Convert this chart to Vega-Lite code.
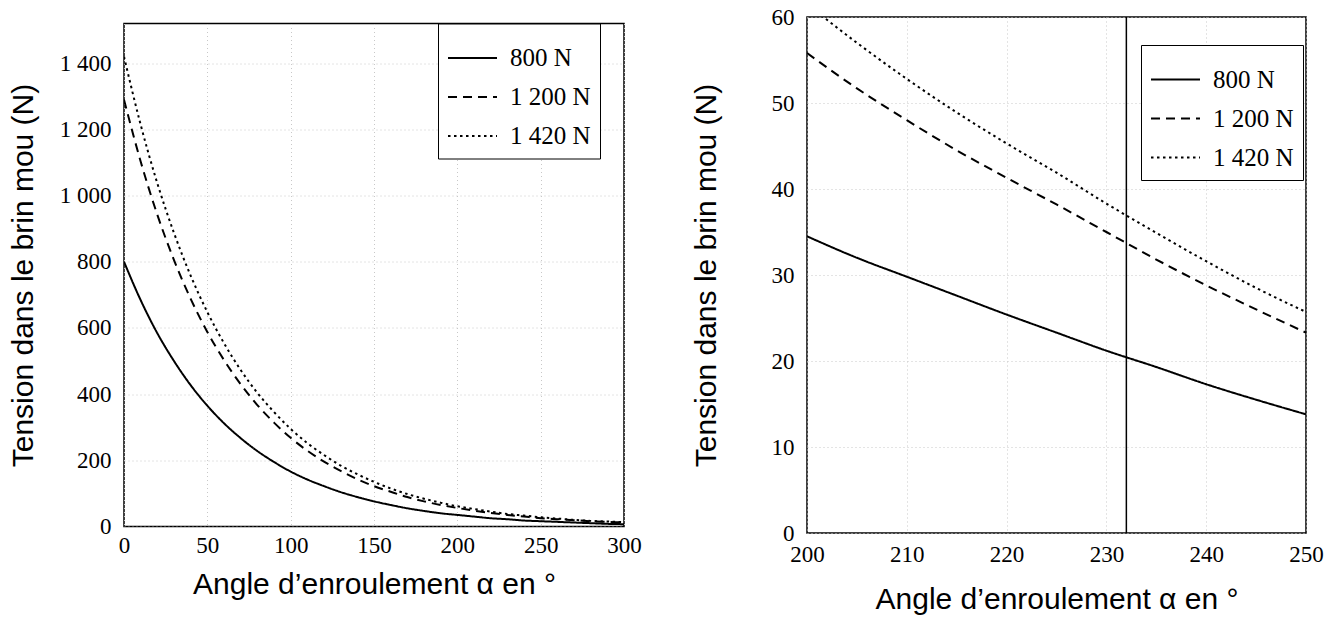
{
  "$schema": "https://vega.github.io/schema/vega-lite/v6.json",
  "background": "white",
  "padding": {"left": 7, "top": 5, "right": 5, "bottom": 5},
  "spacing": 183,
  "center": true,
  "bounds": "flush",
  "config": {
    "view": {"stroke": "black", "strokeWidth": 1.5},
    "axis": {
      "labelFont": "Liberation Serif", "labelFontSize": 23, "labelColor": "black",
      "titleFont": "Liberation Sans", "titleFontSize": 30, "titleFontWeight": "normal", "titleColor": "black",
      "domain": false, "ticks": false, "tickSize": 0, "labelFlush": false, "labelOverlap": false,
      "grid": true, "gridColor": "#c8c8c8", "gridDash": [1, 3], "gridWidth": 1
    },
    "legend": {
      "title": null, "orient": "none", "strokeColor": "black", "fillColor": "white",
      "padding": 9, "symbolType": "stroke", "symbolSize": 2400, "symbolStrokeWidth": 2,
      "symbolStrokeColor": "black", "labelFont": "Liberation Serif", "labelFontSize": 25,
      "labelColor": "black", "rowPadding": 0, "labelOffset": 12, "labelLimit": 200
    }
  },
  "datasets": {
    "left": [
      {"a": 0, "T": 800, "s": "800 N"}, {"a": 10, "T": 684, "s": "800 N"}, {"a": 20, "T": 584, "s": "800 N"}, {"a": 30, "T": 500, "s": "800 N"}, {"a": 40, "T": 427, "s": "800 N"}, {"a": 50, "T": 365, "s": "800 N"}, {"a": 60, "T": 312, "s": "800 N"}, {"a": 70, "T": 267, "s": "800 N"}, {"a": 80, "T": 228, "s": "800 N"}, {"a": 90, "T": 195, "s": "800 N"}, {"a": 100, "T": 166, "s": "800 N"}, {"a": 110, "T": 142, "s": "800 N"}, {"a": 120, "T": 122, "s": "800 N"}, {"a": 130, "T": 104, "s": "800 N"}, {"a": 140, "T": 89, "s": "800 N"}, {"a": 150, "T": 76, "s": "800 N"}, {"a": 160, "T": 65, "s": "800 N"}, {"a": 170, "T": 55, "s": "800 N"}, {"a": 180, "T": 47, "s": "800 N"}, {"a": 190, "T": 40, "s": "800 N"}, {"a": 200, "T": 35, "s": "800 N"}, {"a": 210, "T": 30, "s": "800 N"}, {"a": 220, "T": 25, "s": "800 N"}, {"a": 230, "T": 22, "s": "800 N"}, {"a": 240, "T": 18, "s": "800 N"}, {"a": 250, "T": 16, "s": "800 N"}, {"a": 260, "T": 14, "s": "800 N"}, {"a": 270, "T": 12, "s": "800 N"}, {"a": 280, "T": 10, "s": "800 N"}, {"a": 290, "T": 8, "s": "800 N"}, {"a": 300, "T": 7, "s": "800 N"},
      {"a": 0, "T": 1290, "s": "1 200 N"}, {"a": 10, "T": 1103, "s": "1 200 N"}, {"a": 20, "T": 942, "s": "1 200 N"}, {"a": 30, "T": 805, "s": "1 200 N"}, {"a": 40, "T": 688, "s": "1 200 N"}, {"a": 50, "T": 588, "s": "1 200 N"}, {"a": 60, "T": 503, "s": "1 200 N"}, {"a": 70, "T": 430, "s": "1 200 N"}, {"a": 80, "T": 367, "s": "1 200 N"}, {"a": 90, "T": 314, "s": "1 200 N"}, {"a": 100, "T": 268, "s": "1 200 N"}, {"a": 110, "T": 229, "s": "1 200 N"}, {"a": 120, "T": 196, "s": "1 200 N"}, {"a": 130, "T": 168, "s": "1 200 N"}, {"a": 140, "T": 143, "s": "1 200 N"}, {"a": 150, "T": 122, "s": "1 200 N"}, {"a": 160, "T": 105, "s": "1 200 N"}, {"a": 170, "T": 89, "s": "1 200 N"}, {"a": 180, "T": 76, "s": "1 200 N"}, {"a": 190, "T": 65, "s": "1 200 N"}, {"a": 200, "T": 56, "s": "1 200 N"}, {"a": 210, "T": 48, "s": "1 200 N"}, {"a": 220, "T": 41, "s": "1 200 N"}, {"a": 230, "T": 35, "s": "1 200 N"}, {"a": 240, "T": 30, "s": "1 200 N"}, {"a": 250, "T": 25, "s": "1 200 N"}, {"a": 260, "T": 22, "s": "1 200 N"}, {"a": 270, "T": 19, "s": "1 200 N"}, {"a": 280, "T": 16, "s": "1 200 N"}, {"a": 290, "T": 14, "s": "1 200 N"}, {"a": 300, "T": 12, "s": "1 200 N"},
      {"a": 0, "T": 1420, "s": "1 420 N"}, {"a": 10, "T": 1214, "s": "1 420 N"}, {"a": 20, "T": 1037, "s": "1 420 N"}, {"a": 30, "T": 887, "s": "1 420 N"}, {"a": 40, "T": 758, "s": "1 420 N"}, {"a": 50, "T": 648, "s": "1 420 N"}, {"a": 60, "T": 554, "s": "1 420 N"}, {"a": 70, "T": 473, "s": "1 420 N"}, {"a": 80, "T": 404, "s": "1 420 N"}, {"a": 90, "T": 346, "s": "1 420 N"}, {"a": 100, "T": 295, "s": "1 420 N"}, {"a": 110, "T": 252, "s": "1 420 N"}, {"a": 120, "T": 216, "s": "1 420 N"}, {"a": 130, "T": 184, "s": "1 420 N"}, {"a": 140, "T": 158, "s": "1 420 N"}, {"a": 150, "T": 135, "s": "1 420 N"}, {"a": 160, "T": 115, "s": "1 420 N"}, {"a": 170, "T": 98, "s": "1 420 N"}, {"a": 180, "T": 84, "s": "1 420 N"}, {"a": 190, "T": 72, "s": "1 420 N"}, {"a": 200, "T": 61, "s": "1 420 N"}, {"a": 210, "T": 53, "s": "1 420 N"}, {"a": 220, "T": 45, "s": "1 420 N"}, {"a": 230, "T": 38, "s": "1 420 N"}, {"a": 240, "T": 33, "s": "1 420 N"}, {"a": 250, "T": 28, "s": "1 420 N"}, {"a": 260, "T": 24, "s": "1 420 N"}, {"a": 270, "T": 20, "s": "1 420 N"}, {"a": 280, "T": 17, "s": "1 420 N"}, {"a": 290, "T": 15, "s": "1 420 N"}, {"a": 300, "T": 13, "s": "1 420 N"}
    ],
    "right": [
      {"a": 200, "T": 34.5, "s": "800 N"}, {"a": 205, "T": 32.0, "s": "800 N"}, {"a": 210, "T": 29.8, "s": "800 N"}, {"a": 215, "T": 27.6, "s": "800 N"}, {"a": 220, "T": 25.4, "s": "800 N"}, {"a": 225, "T": 23.3, "s": "800 N"}, {"a": 230, "T": 21.2, "s": "800 N"}, {"a": 235, "T": 19.3, "s": "800 N"}, {"a": 240, "T": 17.3, "s": "800 N"}, {"a": 245, "T": 15.5, "s": "800 N"}, {"a": 250, "T": 13.8, "s": "800 N"},
      {"a": 200, "T": 55.8, "s": "1 200 N"}, {"a": 205, "T": 51.7, "s": "1 200 N"}, {"a": 210, "T": 48.0, "s": "1 200 N"}, {"a": 215, "T": 44.5, "s": "1 200 N"}, {"a": 220, "T": 41.3, "s": "1 200 N"}, {"a": 225, "T": 38.2, "s": "1 200 N"}, {"a": 230, "T": 35.0, "s": "1 200 N"}, {"a": 235, "T": 31.8, "s": "1 200 N"}, {"a": 240, "T": 28.8, "s": "1 200 N"}, {"a": 245, "T": 26.0, "s": "1 200 N"}, {"a": 250, "T": 23.3, "s": "1 200 N"},
      {"a": 200, "T": 61.5, "s": "1 420 N"}, {"a": 205, "T": 57.0, "s": "1 420 N"}, {"a": 210, "T": 52.8, "s": "1 420 N"}, {"a": 215, "T": 48.9, "s": "1 420 N"}, {"a": 220, "T": 45.3, "s": "1 420 N"}, {"a": 225, "T": 41.9, "s": "1 420 N"}, {"a": 230, "T": 38.3, "s": "1 420 N"}, {"a": 235, "T": 34.9, "s": "1 420 N"}, {"a": 240, "T": 31.6, "s": "1 420 N"}, {"a": 245, "T": 28.5, "s": "1 420 N"}, {"a": 250, "T": 25.7, "s": "1 420 N"}
    ],
    "vline": [{"a": 232}]
  },
  "hconcat": [
    {
      "width": 500,
      "height": 503,
      "data": {"name": "left"},
      "mark": {"type": "line", "color": "black", "strokeWidth": 2, "clip": true, "interpolate": "monotone"},
      "encoding": {
        "x": {
          "field": "a", "type": "quantitative",
          "scale": {"domain": [0, 300], "nice": false, "zero": false},
          "axis": {"values": [0, 50, 100, 150, 200, 250, 300], "title": "Angle d’enroulement α en °", "labelPadding": 8, "titlePadding": 12}
        },
        "y": {
          "field": "T", "type": "quantitative",
          "scale": {"domain": [0, 1520], "nice": false},
          "axis": {
            "values": [0, 200, 400, 600, 800, 1000, 1200, 1400],
            "labelExpr": "datum.value >= 1000 ? '1 ' + slice(format(datum.value, 'd'), 1) : format(datum.value, 'd')",
            "title": "Tension dans le brin mou (N)", "labelPadding": 13, "titlePadding": 21
          }
        },
        "strokeDash": {
          "field": "s", "type": "nominal",
          "scale": {"domain": ["800 N", "1 200 N", "1 420 N"], "range": [[1, 0], [9, 6], [2.5, 3.5]]},
          "legend": {"legendX": 314, "legendY": 0}
        }
      }
    },
    {
      "width": 499,
      "height": 516,
      "encoding": {
        "x": {
          "field": "a", "type": "quantitative",
          "scale": {"domain": [200, 250], "nice": false, "zero": false},
          "axis": {"values": [200, 210, 220, 230, 240, 250], "title": "Angle d’enroulement α en °", "labelPadding": 10, "titlePadding": 18}
        }
      },
      "layer": [
        {
          "data": {"name": "right"},
          "mark": {"type": "line", "color": "black", "strokeWidth": 2, "clip": true, "interpolate": "monotone"},
          "encoding": {
            "y": {
              "field": "T", "type": "quantitative",
              "scale": {"domain": [0, 60], "nice": false},
              "axis": {"values": [0, 10, 20, 30, 40, 50, 60], "title": "Tension dans le brin mou (N)", "labelPadding": 13, "titlePadding": 50}
            },
            "strokeDash": {
              "field": "s", "type": "nominal",
              "scale": {"domain": ["800 N", "1 200 N", "1 420 N"], "range": [[1, 0], [9, 6], [2.5, 3.5]]},
              "legend": {"legendX": 334, "legendY": 28}
            }
          }
        },
        {
          "data": {"name": "vline"},
          "mark": {"type": "rule", "color": "black", "strokeWidth": 1.5},
          "encoding": {}
        }
      ]
    }
  ],
  "resolve": {"scale": {"strokeDash": "independent"}, "legend": {"strokeDash": "independent"}}
}
